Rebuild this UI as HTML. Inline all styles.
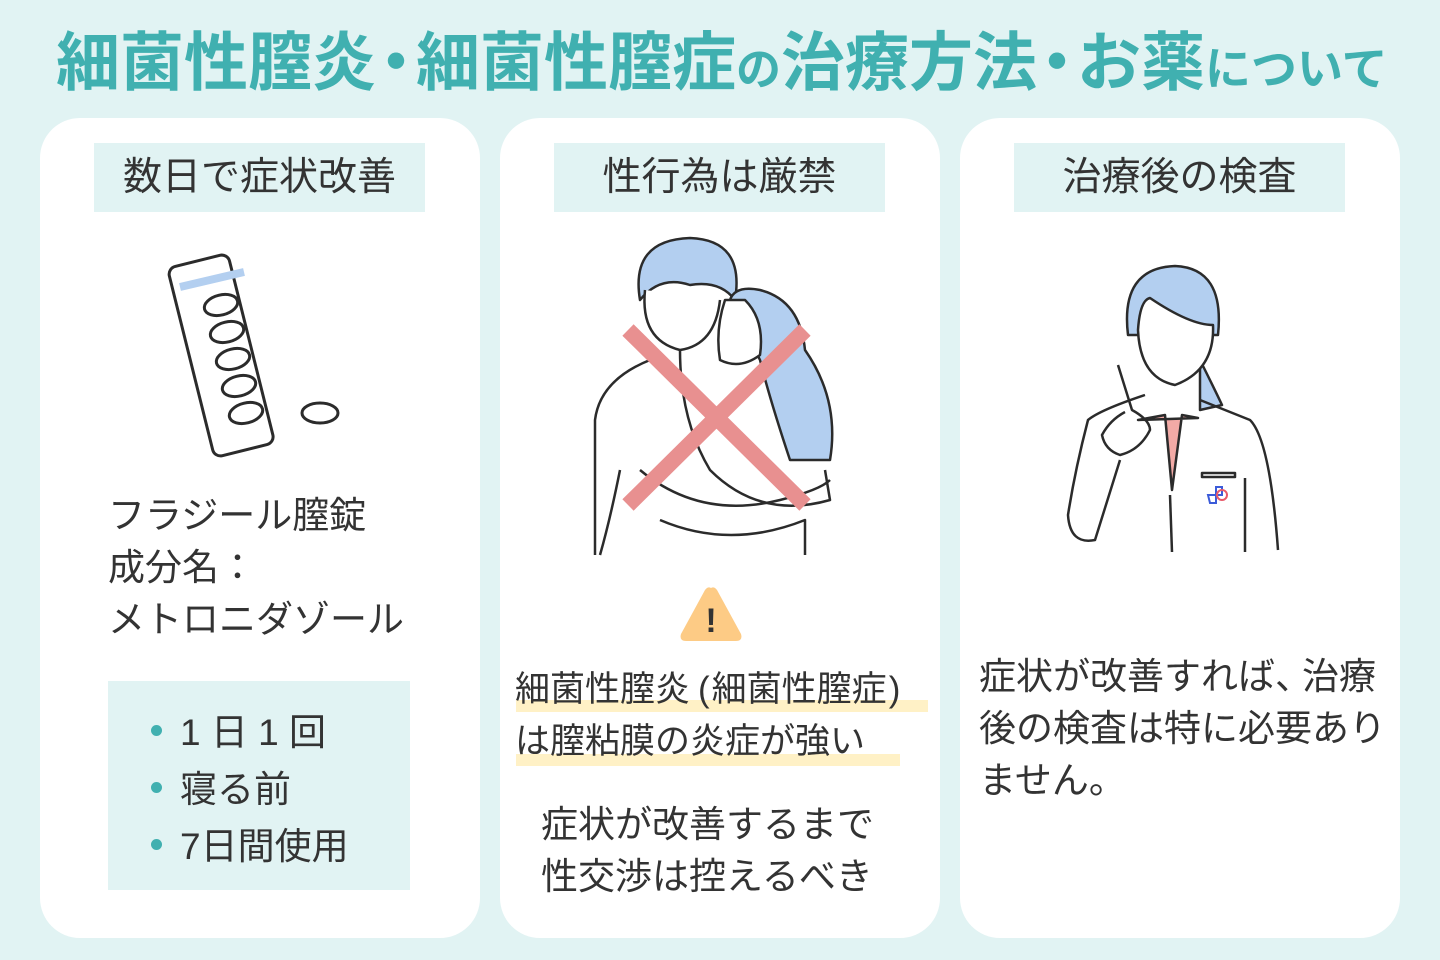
<!DOCTYPE html>
<html><head><meta charset="utf-8"><style>
*{margin:0;padding:0;box-sizing:border-box}
body{width:1440px;height:960px;background:#e1f3f3;position:relative;overflow:hidden;font-family:"Liberation Sans","Noto Sans CJK JP",sans-serif;color:#333}
.t{position:absolute;white-space:nowrap}
.card{position:absolute;top:118px;width:440px;height:820px;background:#fff;border-radius:40px}
.hd{position:absolute;top:143px;width:331px;height:69px;background:#e1f3f3;font-size:39px;line-height:69px;text-align:center;color:#333}
.tx{position:absolute;font-size:37px;line-height:52px;white-space:nowrap;color:#333}
.dot{display:inline-block;margin:0 -12px}
</style></head><body>
<div class="t" style="left:56px;top:20px;font-size:64px;font-weight:bold;color:#40b0b0;line-height:86px;letter-spacing:0px">細菌性膣炎<span class="dot">・</span>細菌性膣症<span style="font-size:45px">の</span>治療方法<span class="dot">・</span>お薬<span style="font-size:46px">について</span></div>

<div class="card" style="left:40px"></div>
<div class="card" style="left:500px"></div>
<div class="card" style="left:960px"></div>

<div class="hd" style="left:94px">数日で症状改善</div>
<div class="hd" style="left:554px">性行為は厳禁</div>
<div class="hd" style="left:1014px">治療後の検査</div>

<svg style="position:absolute;left:160px;top:245px" width="200" height="220" viewBox="160 245 200 220">
<g stroke="#2b2b2b" stroke-width="3" fill="#fff">
<rect x="190" y="258" width="62" height="195" rx="8" transform="rotate(-14 221 355)"/>
</g>
<line x1="180" y1="287" x2="244" y2="272" stroke="#b3cff0" stroke-width="8"/>
<g stroke="#2b2b2b" stroke-width="3" fill="#fff">
<ellipse cx="221" cy="305" rx="17" ry="10" transform="rotate(-14 221 305)"/>
<ellipse cx="227" cy="332" rx="17" ry="10" transform="rotate(-14 227 332)"/>
<ellipse cx="233" cy="359" rx="17" ry="10" transform="rotate(-14 233 359)"/>
<ellipse cx="239" cy="386" rx="17" ry="10" transform="rotate(-14 239 386)"/>
<ellipse cx="246" cy="413" rx="17" ry="10" transform="rotate(-14 246 413)"/>
<ellipse cx="320" cy="413" rx="18" ry="10"/>
</g>
</svg>

<div class="tx" style="left:108px;top:490px">フラジール膣錠<br>成分名：<br>メトロニダゾール</div>
<div style="position:absolute;left:108px;top:681px;width:302px;height:209px;background:#e1f3f3"></div>
<div class="tx" style="left:180px;top:704px;line-height:57px">1 日 1 回<br>寝る前<br>7日間使用</div>
<div style="position:absolute;left:151px;top:725px;width:11px;height:11px;border-radius:50%;background:#40b0b0"></div>
<div style="position:absolute;left:151px;top:782px;width:11px;height:11px;border-radius:50%;background:#40b0b0"></div>
<div style="position:absolute;left:151px;top:839px;width:11px;height:11px;border-radius:50%;background:#40b0b0"></div>

<svg style="position:absolute;left:580px;top:235px" width="270" height="330" viewBox="580 235 270 330">
<g stroke="#2b2b2b" stroke-width="2.5" fill="none" stroke-linejoin="round">
<path d="M640 300 Q630 240 690 238 Q745 240 735 300 Q720 280 690 285 Q660 275 640 300Z" fill="#b3cff0"/>
<path d="M645 290 Q640 340 680 350 Q715 345 720 300" fill="#fff"/>
<path d="M730 300 Q735 285 760 290 Q800 300 805 350 Q840 400 830 460 L790 460 Q770 400 760 360 Z" fill="#b3cff0"/>
<path d="M725 300 Q715 330 720 360 Q740 370 760 355 Q765 320 745 300Z" fill="#fff"/>
<path d="M650 360 Q600 380 595 420 L595 555"/>
<path d="M680 350 Q680 420 710 470 Q760 520 830 500 L825 470"/>
<path d="M640 470 Q700 520 780 500 Q820 490 830 480"/>
<path d="M660 520 Q730 550 805 520 L805 555"/>
<path d="M620 470 Q610 520 600 555"/>
</g>
<line x1="628" y1="330" x2="805" y2="505" stroke="#e89090" stroke-width="16"/>
<line x1="805" y1="330" x2="628" y2="505" stroke="#e89090" stroke-width="16"/>
</svg>

<svg style="position:absolute;left:677px;top:584px" width="68" height="60"><path d="M34 4 Q37 2 40 6 L64 50 Q66 57 59 57 L9 57 Q2 57 4 50 L28 6 Q31 2 34 4Z" fill="#fdcb85"/><text x="34" y="48" font-size="34" font-weight="bold" text-anchor="middle" fill="#333" font-family="Liberation Sans">!</text></svg>

<div style="position:absolute;left:516px;top:700px;width:412px;height:12px;background:#fff1c6"></div>
<div style="position:absolute;left:516px;top:754px;width:384px;height:12px;background:#fff1c6"></div>
<div class="tx" style="left:515px;top:664px;font-size:35px">細菌性膣炎<span style="margin:0 2px 0 8px">(</span>細菌性膣症<span style="margin-left:2px">)</span><br>は膣粘膜の炎症が強い</div>
<div class="tx" style="left:541px;top:799px">症状が改善するまで<br>性交渉は控えるべき</div>

<svg style="position:absolute;left:1060px;top:260px" width="230" height="300" viewBox="1060 260 230 300">
<g stroke="#2b2b2b" stroke-width="2.5" stroke-linejoin="round" fill="none">
<path d="M1200 360 Q1215 390 1222 405 L1200 410 Z" fill="#b3cff0"/>
<path d="M1128 335 Q1120 268 1175 266 Q1225 268 1218 335 Z" fill="#b3cff0"/>
<path d="M1138 330 Q1140 300 1150 298 Q1190 325 1213 325 Q1215 370 1175 385 Q1140 378 1138 330Z" fill="#fff"/>
<path d="M1138 420 L1165 415 L1172 490 L1182 415 L1198 418 Z" fill="#f2aaa6"/>
<path d="M1145 395 Q1100 410 1088 420 Q1075 470 1068 515 Q1070 545 1095 540 L1120 460"/>
<path d="M1170 495 L1172 552"/>
<path d="M1200 400 L1250 420 Q1270 440 1278 550"/>
<path d="M1245 478 L1245 552"/>
<path d="M1118 365 L1132 410 Q1150 420 1150 430 Q1140 450 1120 455 Q1105 450 1102 435 Q1110 420 1125 412"/>
<rect x="1202" y="473" width="33" height="4"/>
</g>
<g fill="none" stroke-width="2"><path d="M1208 495h8v-8h6v8h-6v8h-6z" stroke="#3b5bd9"/><circle cx="1222" cy="495" r="5" stroke="#e85a6a"/></g>
</svg>

<div class="tx" style="left:979px;top:651px">症状が改善すれば<span style="margin-right:-10px">、</span>治療<br>後の検査は特に必要あり<br>ません。</div>
</body></html>
